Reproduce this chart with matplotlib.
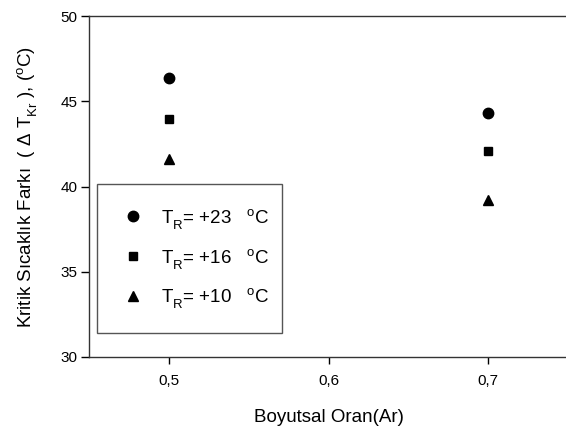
import matplotlib
matplotlib.use("Agg")
import matplotlib.pyplot as plt
import matplotlib._mathtext as mtext
from matplotlib.lines import Line2D
from matplotlib.ticker import FuncFormatter

plt.rcParams['font.family'] = ['Liberation Sans', 'DejaVu Sans']
plt.rcParams['mathtext.fontset'] = 'custom'
plt.rcParams['mathtext.rm'] = 'Liberation Sans'
plt.rcParams['mathtext.it'] = 'Liberation Sans'
plt.rcParams['mathtext.bf'] = 'Liberation Sans:bold'
# alt indisler daha asagida
mtext.FontConstantsBase.sub1 = 0.6

# veriler
oran = [0.5, 0.7]
tr23 = [46.35, 44.33]
tr16 = [43.95, 42.08]
tr10 = [41.6, 39.2]
etiketler = [r'T$_{\mathrm{R}}$= +23   $^{\mathrm{o}}$C',
             r'T$_{\mathrm{R}}$= +16   $^{\mathrm{o}}$C',
             r'T$_{\mathrm{R}}$= +10   $^{\mathrm{o}}$C']

fig = plt.figure(figsize=(5.66, 4.28), dpi=100)
ax = fig.add_axes([89/566, 1-357/428, 479/566, 341/428])

ax.plot(oran, tr23, 'o', color='black', markersize=7.5, linestyle='none')
ax.plot(oran, tr16, 's', color='black', markersize=6, linestyle='none')
ax.plot(oran, tr10, '^', color='black', markersize=6.5, linestyle='none')

ax.set_xlim(0.45, 0.75)
ax.set_ylim(30, 50)
ax.set_xticks([0.5, 0.6, 0.7])
ax.set_yticks([30, 35, 40, 45, 50])
ax.xaxis.set_major_formatter(FuncFormatter(lambda v, p: ('%.1f' % v).replace('.', ',')))
ax.tick_params(direction='out', width=1, labelsize=11, colors='black')
ax.tick_params(axis='y', length=5.5, pad=3)
ax.tick_params(axis='x', length=5, pad=7.5)

ax.spines['right'].set_visible(False)
for s in ['left', 'bottom', 'top']:
    ax.spines[s].set_color('#333333')
    ax.spines[s].set_linewidth(1)

ax.set_xlabel('Boyutsal Oran(Ar)', fontsize=13.5, labelpad=15)
ax.set_ylabel(r'Kritik Sıcaklık Farkı  ( $\Delta$ T$_{\mathrm{Kr}}$ ), ($^{\mathrm{o}}$C)', fontsize=13.5, labelpad=15)

tutamaklar = [Line2D([], [], marker='o', color='black', linestyle='none', markersize=7.5),
              Line2D([], [], marker='s', color='black', linestyle='none', markersize=6),
              Line2D([], [], marker='^', color='black', linestyle='none', markersize=6.5)]
leg = ax.legend(tutamaklar, etiketler, loc='lower left',
                bbox_to_anchor=(0.0167, 0.0704, 0.386, 0.43), mode='expand',
                borderaxespad=0, fontsize=13.5, labelspacing=0.85, handletextpad=0.8,
                borderpad=1.2, handlelength=1.44,
                fancybox=False, framealpha=1, edgecolor='#555555')
leg.get_frame().set_linewidth(1)

plt.savefig('out.png', dpi=100)
